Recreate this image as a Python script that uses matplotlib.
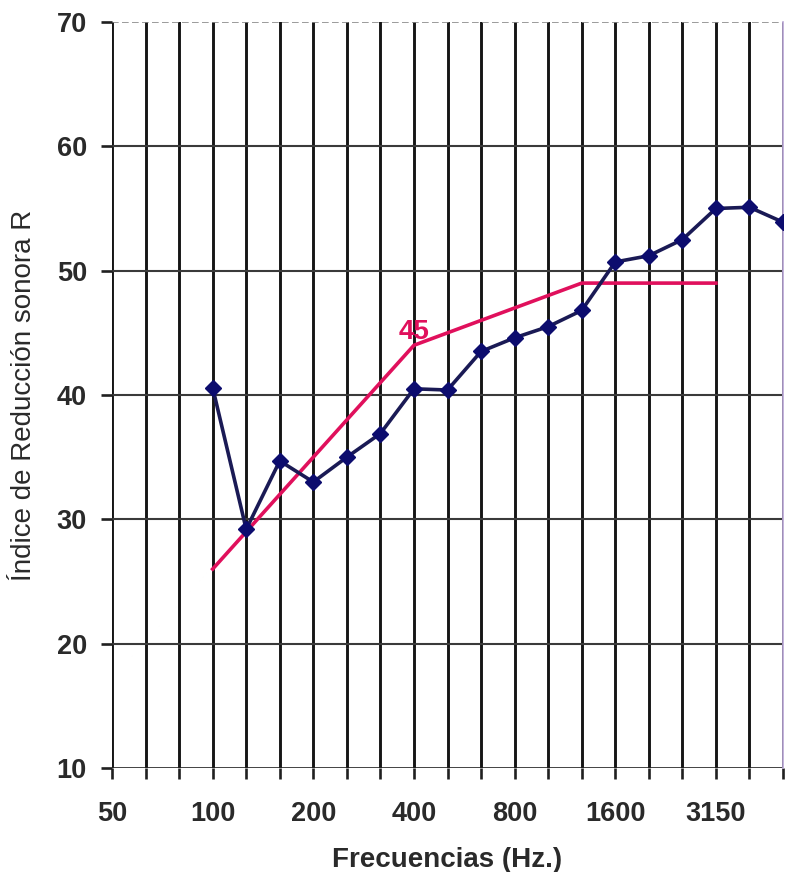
import matplotlib.pyplot as plt
import numpy as np

# bandas de tercio de octava
frecuencias = ["50", "63", "80", "100", "125", "160", "200", "250", "315", "400",
               "500", "630", "800", "1000", "1250", "1600", "2000", "2500",
               "3150", "4000", "5000"]
etiquetas = ["50", "", "", "100", "", "", "200", "", "", "400", "", "", "800",
             "", "", "1600", "", "", "3150", "", ""]

# indice de reduccion medido (100 Hz - 5000 Hz)
R_medido = [40.6, 29.2, 34.7, 33.0, 35.0, 36.9, 40.5, 40.4, 43.5, 44.6, 45.5,
            46.8, 50.7, 51.2, 52.5, 55.0, 55.1, 53.9]
# curva de referencia desplazada (100 Hz - 3150 Hz)
R_referencia = [26, 29, 32, 35, 38, 41, 44, 45, 46, 47, 48, 49, 49, 49, 49, 49]
Rw = 45

plt.rcParams['font.family'] = ['Liberation Sans', 'DejaVu Sans']

fig = plt.figure(figsize=(7.9, 8.72), dpi=100)
ax = fig.add_axes([112/790, 1 - 768/872, (783 - 112)/790, (768 - 22)/872])

x = np.arange(len(frecuencias))
x_med = x[3:3 + len(R_medido)]
x_ref = x[3:3 + len(R_referencia)]

# rejilla
for xi in x:
    ax.axvline(xi, color="#151515", linewidth=2.1, zorder=1)
for yi in [20, 30, 40, 50, 60]:
    ax.axhline(yi, color="#3a3a3a", linewidth=1.5, zorder=1)
ax.axhline(70, color="#8a8a8a", linewidth=1.2, linestyle=(0, (4, 2)), zorder=1)
ax.axhline(10, color="#202020", linewidth=1.9, zorder=1)

ax.plot(x_ref, R_referencia, color="#e0105c", linewidth=2.6, zorder=3)
ax.plot(x_med, R_medido, color="#1a1a55", linewidth=2.6, marker="D",
        markersize=8.5, markerfacecolor="#0c0c6e", markeredgecolor="#0c0c6e", zorder=4)
ax.text(9, 45.1, str(Rw), color="#e0105c", fontsize=20, fontweight="bold",
        ha="center", va="center", zorder=5)

ax.set_xlim(0, 20)
ax.set_ylim(10, 70)
ax.set_xticks(x)
ax.set_xticklabels(etiquetas)
ax.set_yticks(np.arange(10, 71, 10))

for s in ["top", "left", "bottom"]:
    ax.spines[s].set_visible(False)
ax.spines["right"].set_color("#b9a6d6")
ax.spines["right"].set_linestyle((0, (2, 1)))
ax.spines["right"].set_linewidth(1.2)

ax.tick_params(axis="both", length=8, width=1.9, color="#202020",
               labelsize=19.5, labelcolor="#2a2a2a")
ax.tick_params(axis="x", pad=16)
ax.tick_params(axis="y", pad=10)
for lab in ax.get_xticklabels() + ax.get_yticklabels():
    lab.set_fontweight("bold")

ax.set_ylabel("Índice de Reducción sonora R", fontsize=20, color="#2a2a2a", labelpad=14)
ax.set_xlabel("Frecuencias (Hz.)", fontsize=20, fontweight="bold", color="#2a2a2a", labelpad=14)

fig.savefig("out.png", dpi=100)
